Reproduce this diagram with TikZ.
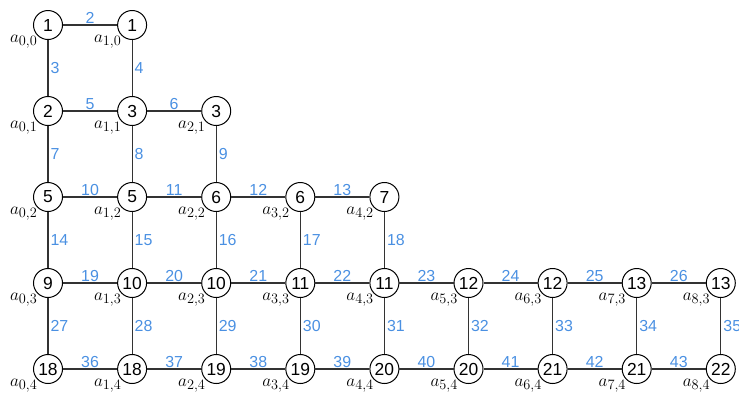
\documentclass[tikz,border=0pt]{standalone}
\usepackage{amsmath}
\usepackage{fontspec}
\usepackage{xcolor}
\usepackage{tikz}
\usetikzlibrary{calc}
\newfontfamily\arialish{Liberation Sans}
\definecolor{edgeblue}{RGB}{74,144,226}
\begin{document}
\begin{tikzpicture}[x=1bp,y=-1bp,
  cell/.style={circle,draw=black,line width=1bp,fill=white,minimum size=29bp,inner sep=0pt,
    font=\arialish\fontsize{17.5}{20}\selectfont},
  alab/.style={anchor=base east,inner sep=0pt,font=\fontsize{19}{22}\selectfont},
  edge/.style={draw=black!80,line width=1.2bp},
  hlab/.style={midway,anchor=south,inner sep=1bp,text=edgeblue,
    font=\arialish\fontsize{16}{18}\selectfont},
  vlab/.style={midway,anchor=west,inner sep=2bp,text=edgeblue,
    font=\arialish\fontsize{16}{18}\selectfont}]
\useasboundingbox (0,0) rectangle (739,392);
\def\dx{84.1}\def\dy{86}
% Cells, row by row
\foreach \row/\vals in {0/{1,1},1/{2,3,3},2/{5,5,6,6,7},
    3/{9,10,10,11,11,12,12,13,13},4/{18,18,19,19,20,20,21,21,22}} {
  \foreach \v [count=\c from 0] in \vals {
    \node[cell] (n-\c-\row) at (48+\dx*\c,25+\dy*\row) {\v};
    \node[alab] (a-\c-\row) at ([shift={(-10.5,17.5)}]n-\c-\row) {$a_{\c,\row}$};
  }
}
% Horizontal edges (row / last column / first number)
\foreach \row/\last/\first in {0/0/2,1/1/5,2/3/10,3/7/19,4/7/36} {
  \foreach \c in {0,...,\last} {
    \pgfmathtruncatemacro\num{\first+\c}
    \pgfmathtruncatemacro\nxt{\c+1}
    \draw[edge] (n-\c-\row) -- node[hlab]{\num} (n-\nxt-\row);
  }
}
% Vertical edges
\foreach \row/\last/\first in {0/1/3,1/2/7,2/4/14,3/8/27} {
  \foreach \c in {0,...,\last} {
    \pgfmathtruncatemacro\num{\first+\c}
    \pgfmathtruncatemacro\nrow{\row+1}
    \draw[edge] (n-\c-\row) -- node[vlab]{\num} (n-\c-\nrow);
  }
}
\end{tikzpicture}
\end{document}
